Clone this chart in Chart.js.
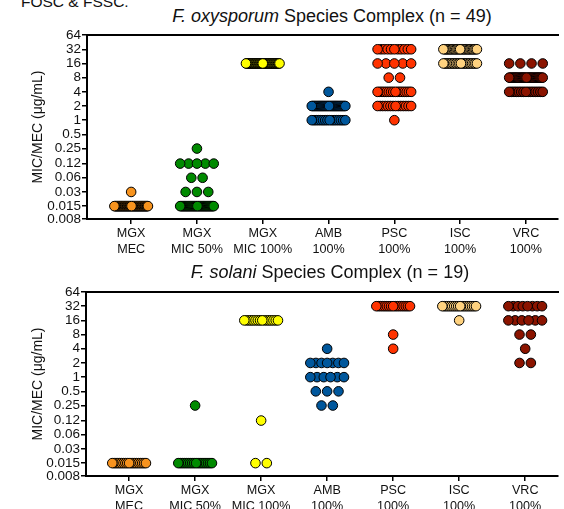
<!DOCTYPE html>
<html>
<head>
<meta charset="utf-8">
<script src="https://cdn.jsdelivr.net/npm/chart.js@4.4.1/dist/chart.umd.min.js"></script>
<style>
  body { margin: 0; background: #fff; }
  #page { position: relative; width: 564px; height: 509px; overflow: hidden; font-family: 'Liberation Sans', Arial, sans-serif; color: #111; }
  canvas { position: absolute; left: 0; }
  .title { position: absolute; text-align: center; font-size: 18px; line-height: 18px; white-space: nowrap; }
  .note { position: absolute; left: 21px; top: -6px; font-size: 15.5px; line-height: 15.5px; }
</style>
</head>
<body>
<div id="page">
  <canvas id="chartFosc" width="564" height="232" style="top:26px"></canvas>
  <canvas id="chartFssc" width="564" height="251" style="top:258px"></canvas>
  <div class="note">FOSC &amp; FSSC.</div>
  <div class="title" style="left:0; width:664px; top:7px"><i>F. oxysporum</i> Species Complex (n = 49)</div>
  <div class="title" style="left:0; width:660px; top:263px"><i>F. solani</i> Species Complex (n = 19)</div>
</div>
<script>
const categories = [
  ['MGX', 'MEC'],
  ['MGX', 'MIC 50%'],
  ['MGX', 'MIC 100%'],
  ['AMB', '100%'],
  ['PSC', '100%'],
  ['ISC', '100%'],
  ['VRC', '100%'],
];
const yTicks = [0.008, 0.015, 0.03, 0.06, 0.12, 0.25, 0.5, 1, 2, 4, 8, 16, 32, 64];

// [MIC/MEC value, number of isolates]
const foscMgxMec = [[0.03, 1], [0.015, 48]];
const foscMgxMic50 = [[0.25, 1], [0.12, 5], [0.06, 2], [0.03, 3], [0.015, 38]];
const foscMgxMic100 = [[16, 49]];
const foscAmb = [[4, 1], [2, 32], [1, 16]];
const foscPsc = [[32, 11], [16, 5], [8, 2], [4, 16], [2, 14], [1, 1]];
const foscIsc = [[32, 27], [16, 22]];
const foscVrc = [[16, 4], [8, 30], [4, 15]];

const fsscMgxMec = [[0.015, 19]];
const fsscMgxMic50 = [[0.25, 1], [0.015, 18]];
const fsscMgxMic100 = [[16, 16], [0.12, 1], [0.015, 2]];
const fsscAmb = [[4, 1], [2, 7], [1, 6], [0.5, 3], [0.25, 2]];
const fsscPsc = [[32, 17], [8, 1], [4, 1]];
const fsscIsc = [[32, 18], [16, 1]];
const fsscVrc = [[32, 8], [16, 6], [8, 2], [4, 1], [2, 2]];

const colors = ['#f7931e', '#008a00', '#ffff00', '#00579c', '#ff3300', '#ffd27f', '#8b1400'];
const fontFamily = "'Liberation Sans', Arial, sans-serif";
const dotGap = 0.172;
const rowWidth = 0.51;

// spread isolates with the same value side by side, like a scatter dot plot.
// a few evenly spaced dots are drawn last so they stay fully visible.
const spreadRow = (n) => {
  const width = n === 1 ? 0 : Math.min((n - 1) * dotGap, rowWidth);
  const offsets = Array.from({ length: n }, (_, k) =>
    n === 1 ? 0 : -width / 2 + (width * k) / (n - 1),
  );
  const m = Math.min(n, Math.floor(width / dotGap + 1e-6) + 1);
  const anchors = new Set();
  for (let a = 0; a < m; a++) {
    anchors.add(m === 1 ? Math.round((n - 1) / 2) : Math.round((a * (n - 1)) / (m - 1)));
  }
  const rest = offsets.filter((o, k) => !anchors.has(k));
  const front = offsets.filter((o, k) => anchors.has(k));
  return rest.concat(front);
};

const buildDatasets = (groups) =>
  groups.map((rows, i) => ({
    data: rows.flatMap(([mic, n]) => spreadRow(n).map((o) => ({ x: i + o, y: mic }))),
    backgroundColor: colors[i],
    borderColor: '#000',
    borderWidth: 1,
    pointRadius: 4.8,
  }));

const makeChart = (id, groups, xMin, xMax, padTop, axisWidth, axisHeight) => {
  new Chart(document.querySelector(id), {
    type: 'scatter',
    data: { datasets: buildDatasets(groups) },
    options: {
      responsive: false,
      animation: false,
      events: [],
      layout: { padding: { top: padTop, left: 0, right: 0, bottom: 0 } },
      plugins: { legend: { display: false }, tooltip: { enabled: false } },
      scales: {
        x: {
          type: 'linear',
          min: xMin,
          max: xMax,
          afterBuildTicks: (s) => {
            s.ticks = categories.map((c, i) => ({ value: i }));
          },
          afterFit: (s) => {
            s.height = axisHeight;
          },
          ticks: {
            callback: (v) => categories[v],
            autoSkip: false,
            maxRotation: 0,
            padding: 2,
            color: '#111',
            font: { size: 12.6, family: fontFamily, lineHeight: 1.25 },
          },
          grid: { drawOnChartArea: false, color: '#000', lineWidth: 1.5, tickLength: 5 },
          border: { color: '#000', width: 2 },
        },
        xTop: {
          type: 'linear',
          position: 'top',
          ticks: { display: false },
          grid: { display: false, drawTicks: false },
          border: { color: '#000', width: 2 },
          afterFit: (s) => {
            s.height = 0;
          },
        },
        y: {
          type: 'logarithmic',
          min: 0.008,
          max: 64,
          afterBuildTicks: (s) => {
            s.ticks = yTicks.map((v) => ({ value: v }));
          },
          afterFit: (s) => {
            s.width = axisWidth;
          },
          ticks: {
            callback: (v) => String(v),
            autoSkip: false,
            padding: 1,
            color: '#111',
            font: { size: 13.5, family: fontFamily },
          },
          grid: { drawOnChartArea: false, color: '#000', lineWidth: 1.5, tickLength: 5 },
          border: { color: '#000', width: 2 },
          title: {
            display: true,
            text: 'MIC/MEC (\u03bcg/mL)',
            color: '#111',
            font: { size: 14, family: fontFamily },
            padding: { top: 30, bottom: 0 },
          },
        },
      },
    },
  });
};

makeChart('#chartFosc',
  [foscMgxMec, foscMgxMic50, foscMgxMic100, foscAmb, foscPsc, foscIsc, foscVrc],
  -0.671, 6.49, 8, 87, 39);
makeChart('#chartFssc',
  [fsscMgxMec, fsscMgxMic50, fsscMgxMic100, fsscAmb, fsscPsc, fsscIsc, fsscVrc],
  -0.653, 6.5, 34, 86, 33);
</script>
</body>
</html>
